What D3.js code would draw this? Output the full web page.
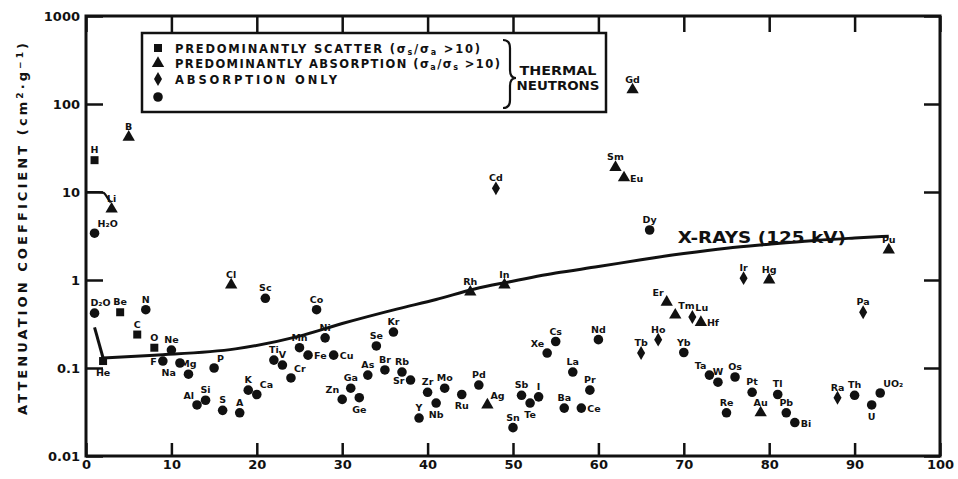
<!DOCTYPE html>
<html>
<head>
<meta charset="utf-8">
<script src="https://cdn.jsdelivr.net/npm/d3@7"></script>
<style>
body { margin: 0; background: #fff; }
text { font-family: "DejaVu Sans", sans-serif; font-weight: bold; fill: #111; }
</style>
</head>
<body>
<svg id="chart" width="958" height="479"></svg>
<script>
// thermal neutron attenuation coefficients
var elements = ['H','H₂O','D₂O','He','Li','Be','B','C','N','O','F','Ne','Na','Mg','Al','Si','P','S','Cl','A',
    'K','Ca','Sc','Ti','V','Cr','Mn','Fe','Co','Ni','Cu','Zn','Ga','Ge','As','Se','Br','Kr','Rb','Sr',
    'Y','Zr','Nb','Mo','Ru','Rh','Pd','Ag','Cd','In','Sn','Sb','Te','I','Xe','Cs','Ba','La','Ce','Pr',
    'Nd','Sm','Eu','Gd','Tb','Dy','Ho','Er','Tm','Yb','Lu','Hf','Ta','W','Re','Os','Ir','Pt','Au','Hg',
    'Tl','Pb','Bi','Ra','Th','Pa','U','UO₂','Pu'];
var atomicNumber = [1,1,1,2,3,4,5,6,7,8,9,10,11,12,13,14,15,16,17,18,
    19,20,21,22,23,24,25,26,27,28,29,30,31,32,33,34,35,36,37,38,
    39,40,41,42,44,45,46,47,48,49,50,51,52,53,54,55,56,57,58,59,
    60,62,63,64,65,66,67,68,69,70,71,72,73,74,75,76,77,78,79,80,
    81,82,83,88,90,91,92,93,94];
var coefficient = [23,3.4,0.42,0.12,6.4,0.43,42,0.24,0.46,0.17,0.12,0.16,0.114,0.085,0.038,0.043,0.10,0.033,0.88,0.031,
    0.056,0.05,0.62,0.123,0.108,0.077,0.17,0.14,0.46,0.22,0.14,0.044,0.059,0.046,0.083,0.178,0.095,0.256,0.09,0.073,
    0.027,0.053,0.04,0.059,0.05,0.73,0.064,0.038,11,0.88,0.021,0.049,0.04,0.047,0.148,0.2,0.035,0.09,0.035,0.056,
    0.21,19,14.5,145,0.148,3.7,0.21,0.56,0.4,0.15,0.38,0.33,0.083,0.069,0.031,0.079,1.05,0.053,0.031,1.0,
    0.05,0.031,0.024,0.046,0.049,0.43,0.038,0.052,2.2];
// s = predominantly scatter, t = predominantly absorption, d = absorption only, c = other
var markerKind = ['s','c','c','s','t','s','t','s','c','s','c','c','c','c','c','c','c','c','t','c',
    'c','c','c','c','c','c','c','c','c','c','c','c','c','c','c','c','c','c','c','c',
    'c','c','c','c','c','t','c','t','d','t','c','c','c','c','c','c','c','c','c','c',
    'c','t','t','t','d','c','d','t','t','c','d','t','c','c','c','c','d','c','t','t',
    'c','c','c','d','c','d','c','c','t'];
// where each label sits around its marker (default above)
var labelSide = {
    'H₂O': 'ne', 'D₂O': 'nr', He: 's', F: 'w', Na: 'sw', Al: 'nw', P: 'ne', Ca: 'ne', Cr: 'ne',
    Fe: 'e', Cu: 'e', Zn: 'nw', Ge: 's', Sr: 'w', Nb: 's', Ru: 's', Ag: 'ne', Te: 's', Xe: 'nw',
    Ce: 'e', Eu: 'e', Er: 'nw', Tm: 'ne', Lu: 'ne', Hf: 'e', Ta: 'nw', Bi: 'e', U: 's', 'UO₂': 'ne'
};

// X-ray (125 kV) curve
var xrayZ = [1, 2, 8, 17.5, 25, 30, 36.5, 41, 45.5, 49.5, 55, 60, 65, 70, 75, 80, 85, 90, 94];
var xrayMu = [0.29, 0.13, 0.14, 0.165, 0.23, 0.32, 0.47, 0.6, 0.79, 0.95, 1.2, 1.42, 1.7, 2.0, 2.3, 2.55, 2.8, 3.0, 3.15];

var xTicks = [0, 10, 20, 30, 40, 50, 60, 70, 80, 90, 100];
var yTicks = [0.01, 0.1, 1, 10, 100, 1000];
var yTickLabels = ['0.01', '0.1', '1', '10', '100', '1000'];

var legendKinds = ['s', 't', 'd', 'c'];
var legendTexts = [
    ['PREDOMINANTLY SCATTER (σ', 's', '/σ', 'a', ' >10)'],
    ['PREDOMINANTLY ABSORPTION (σ', 'a', '/σ', 's', ' >10)'],
    ['ABSORPTION ONLY'],
    []
];

var svg = d3.select('#chart');
var x = d3.scaleLinear().domain([0, 100]).range([86, 940]);
var y = d3.scaleLog().domain([0.01, 1000]).range([456, 16]);

var shapes = { s: d3.symbolSquare, t: d3.symbolTriangle, d: d3.symbolDiamond, c: d3.symbolCircle };
var sizes = { s: 64, t: 66, d: 56, c: 72 };
function symbolPath(k) {
    return d3.symbol().type(shapes[k]).size(sizes[k])();
}

// frame
svg.append('rect')
    .attr('x', x(0)).attr('y', y(1000))
    .attr('width', x(100) - x(0)).attr('height', y(0.01) - y(1000))
    .attr('fill', 'none').attr('stroke', '#111').attr('stroke-width', 3);

function styleAxis(g) {
    g.select('.domain').remove();
    g.selectAll('line').attr('stroke', '#111').attr('stroke-width', 2.5);
    g.selectAll('text').style('font-size', '13px').attr('fill', '#111');
}

svg.append('g').attr('transform', 'translate(0,' + y(0.01) + ')')
    .call(d3.axisBottom(x).tickValues(xTicks).tickSize(-13).tickPadding(4).tickFormat(d3.format('d')))
    .call(styleAxis);
svg.append('g').attr('transform', 'translate(0,' + y(1000) + ')')
    .call(d3.axisTop(x).tickValues(xTicks).tickSize(-16).tickFormat(''))
    .call(styleAxis);
svg.append('g').attr('transform', 'translate(' + x(0) + ',0)')
    .call(d3.axisLeft(y).tickValues(yTicks).tickSize(-17).tickPadding(6)
        .tickFormat(function (d, i) { return yTickLabels[i]; }))
    .call(styleAxis);
svg.append('g').attr('transform', 'translate(' + x(100) + ',0)')
    .call(d3.axisRight(y).tickValues(yTicks).tickSize(-16).tickFormat(''))
    .call(styleAxis);

// y title
var yt = svg.append('text')
    .attr('transform', 'translate(27,229) rotate(-90)')
    .attr('text-anchor', 'middle')
    .attr('textLength', 372).attr('lengthAdjust', 'spacing')
    .style('font-size', '13px');
yt.append('tspan').text('ATTENUATION COEFFICIENT (cm');
yt.append('tspan').attr('baseline-shift', '40%').style('font-size', '9px').text('2');
yt.append('tspan').text('·g');
yt.append('tspan').attr('baseline-shift', '40%').style('font-size', '9px').text('−1');
yt.append('tspan').text(')');

// X-ray curve: straight drop from H to He, then smooth rise
var line = d3.line().x(function (d) { return x(d[0]); }).y(function (d) { return y(d[1]); });
var xray = xrayZ.map(function (z, i) { return [z, xrayMu[i]]; });
svg.append('path').attr('d', line(xray.slice(0, 2)))
    .attr('fill', 'none').attr('stroke', '#111').attr('stroke-width', 3);
svg.append('path').attr('d', line.curve(d3.curveMonotoneX)(xray.slice(1)))
    .attr('fill', 'none').attr('stroke', '#111').attr('stroke-width', 3);
svg.append('text').attr('x', x(69.3)).attr('y', y(2.65))
    .attr('textLength', 168).attr('lengthAdjust', 'spacingAndGlyphs')
    .style('font-size', '15px').text('X-RAYS  (125 kV)');

// leader from the 10 tick to Li
svg.append('path')
    .attr('d', d3.line().curve(d3.curveBasis)
        .x(function (d) { return x(d[0]); }).y(function (d) { return y(d[1]); })
        ([[0, 10], [1.6, 10], [2.1, 10], [2.5, 8.6], [2.9, 7.6]]))
    .attr('fill', 'none').attr('stroke', '#111').attr('stroke-width', 2.2);

// points
var points = elements.map(function (name, i) {
    return { name: name, z: atomicNumber[i], mu: coefficient[i], kind: markerKind[i], side: labelSide[name] || 'n' };
});

var pts = svg.append('g').selectAll('g').data(points).enter().append('g')
    .attr('transform', function (d) { return 'translate(' + x(d.z) + ',' + y(d.mu) + ')'; });

pts.append('path')
    .attr('d', function (d) { return symbolPath(d.kind); })
    .attr('fill', '#111');

var offsets = {
    n: [0, -7, 'middle'], nr: [6, -7, 'middle'], s: [0, 15, 'middle'], e: [6, 4, 'start'], w: [-6, 4, 'end'],
    ne: [3, -6, 'start'], nw: [-3, -6, 'end'], sw: [-4, 13, 'end']
};
pts.append('text')
    .attr('x', function (d) { return offsets[d.side][0]; })
    .attr('y', function (d) { return offsets[d.side][1]; })
    .attr('text-anchor', function (d) { return offsets[d.side][2]; })
    .style('font-size', '9.5px')
    .text(function (d) { return d.name; });

// legend
var lg = svg.append('g');
lg.append('rect').attr('x', 142).attr('y', 33).attr('width', 464).attr('height', 79)
    .attr('fill', '#fff').attr('stroke', '#111').attr('stroke-width', 2.5);
var lengths = [305, 325, 162];
legendKinds.forEach(function (k, i) {
    var cy = i < 3 ? 48 + i * 15.5 : 97;
    lg.append('path').attr('transform', 'translate(158,' + cy + ')')
        .attr('d', symbolPath(k)).attr('fill', '#111');
    var parts = legendTexts[i];
    if (!parts.length) return;
    var t = lg.append('text').attr('x', 175).attr('y', cy + 4.5)
        .attr('textLength', lengths[i]).attr('lengthAdjust', 'spacing')
        .style('font-size', '11.5px');
    parts.forEach(function (p, j) {
        var ts = t.append('tspan').text(p);
        if (j % 2 === 1) ts.attr('baseline-shift', '-25%').style('font-size', '8px');
    });
});
lg.append('path')
    .attr('d', 'M503,40 Q510,40 510,48 L510,70 Q510,78 516,78 Q510,78 510,86 L510,100 Q510,108 503,108')
    .attr('fill', 'none').attr('stroke', '#111').attr('stroke-width', 2.2);
lg.append('text').attr('x', 558).attr('y', 75).attr('text-anchor', 'middle')
    .attr('textLength', 77).attr('lengthAdjust', 'spacingAndGlyphs')
    .style('font-size', '11.5px').text('THERMAL');
lg.append('text').attr('x', 558).attr('y', 90).attr('text-anchor', 'middle')
    .attr('textLength', 83).attr('lengthAdjust', 'spacingAndGlyphs')
    .style('font-size', '11.5px').text('NEUTRONS');
</script>
</body>
</html>
